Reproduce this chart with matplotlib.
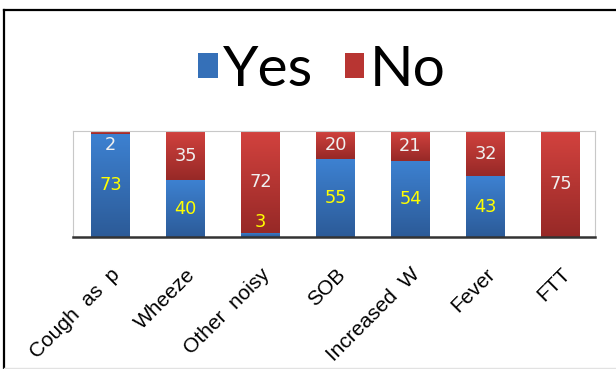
import numpy as np
import matplotlib
matplotlib.use("Agg")
import matplotlib.pyplot as plt
from matplotlib.colors import LinearSegmentedColormap
from matplotlib.patches import Patch
from matplotlib.lines import Line2D

# --- datos ---
categorias = ["Cough  as  p", "Wheeze", "Other  noisy", "SOB",
              "Increased  W", "Fever", "FTT"]
si = [73, 40, 3, 55, 54, 43, 0]
no = [2, 35, 72, 20, 21, 32, 75]

azul_arriba, azul_abajo = "#3d81d1", "#2c5b98"
rojo_arriba, rojo_abajo = "#d2423e", "#972927"


def degradado(ax, barras, c_arriba, c_abajo):
    # cada segmento lleva su propio degradado vertical
    cmap = LinearSegmentedColormap.from_list("g", [c_abajo, c_arriba])
    grad = np.linspace(0, 1, 64).reshape(-1, 1)
    for p in barras:
        x0, y0 = p.get_x(), p.get_y()
        w, h = p.get_width(), p.get_height()
        if h <= 0:
            continue
        ax.imshow(grad, extent=[x0, x0 + w, y0, y0 + h], origin="lower",
                  aspect="auto", cmap=cmap, zorder=p.get_zorder() + 0.1,
                  interpolation="bilinear")


fig = plt.figure(figsize=(6.16, 3.69), dpi=100)
ax = fig.add_axes([73 / 616, 1 - 237 / 369, 522 / 616, 106 / 369])

x = np.arange(len(categorias))
ancho = 0.51
b_si = ax.bar(x, si, width=ancho, color=azul_arriba, linewidth=0)
b_no = ax.bar(x, no, width=ancho, bottom=si, color=rojo_arriba, linewidth=0)
degradado(ax, b_si, azul_arriba, azul_abajo)
degradado(ax, b_no, rojo_arriba, rojo_abajo)

# etiquetas de valor (se mantienen dentro del area del grafico)
total = 75
fuente_num = dict(fontsize=12.8, family="DejaVu Sans", ha="center",
                  va="center", zorder=5)
for i in range(len(categorias)):
    if si[i] > 0:
        y = min(max(si[i] / 2, 10.5), total - 10)
        ax.text(x[i], y, str(si[i]), color="#ffff00", **fuente_num)
    if no[i] > 0:
        y = min(max(si[i] + no[i] / 2, 10.5), total - 10)
        ax.text(x[i], y, str(no[i]), color="#f0f0f0", **fuente_num)

ax.set_xlim(-0.5, -0.5 + 522 / 75)
ax.set_ylim(0, total)
ax.set_yticks([])
ax.set_xticks(x)
ax.set_xticklabels(categorias, rotation=45, ha="right", va="top",
                   rotation_mode="anchor", fontsize=15,
                   fontfamily="Liberation Sans")
ax.tick_params(axis="x", length=0, pad=20)

for lado in ["left", "top", "right"]:
    ax.spines[lado].set_color("#c8c8c8")
    ax.spines[lado].set_linewidth(0.8)
ax.spines["bottom"].set_color("#333333")
ax.spines["bottom"].set_linewidth(1.8)
ax.spines["bottom"].set_zorder(6)

# leyenda grande arriba
manijas = [Patch(facecolor="#3570b8", edgecolor="none"),
           Patch(facecolor="#b83532", edgecolor="none")]
fig.legend(manijas, ["Yes", "No"], loc="center",
           bbox_to_anchor=(0.523, 0.810), ncol=2, frameon=False,
           prop={"family": "Lato", "size": 41},
           handlelength=0.34, handleheight=0.3, handletextpad=0.1,
           columnspacing=0.55)

# marco exterior
fig.add_artist(Line2D([4 / 616, 1], [1 - 10 / 369, 1 - 10 / 369],
                      color="black", linewidth=1.6))
fig.add_artist(Line2D([4 / 616, 4 / 616], [0, 1 - 10 / 369],
                      color="black", linewidth=1.6))
fig.add_artist(Line2D([4 / 616, 1], [1 / 369, 1 / 369],
                      color="#e2e2e2", linewidth=1))

fig.savefig("out.png", dpi=100)
